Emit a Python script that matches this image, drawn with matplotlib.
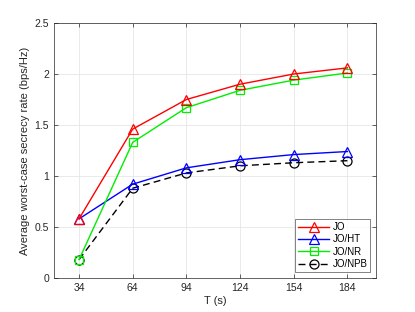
import matplotlib
matplotlib.use("Agg")
import matplotlib.pyplot as plt

T = [34, 64, 94, 124, 154, 184]
jo = [0.58, 1.46, 1.75, 1.90, 2.00, 2.06]
jo_ht = [0.58, 0.92, 1.08, 1.16, 1.21, 1.24]
jo_nr = [0.18, 1.33, 1.67, 1.84, 1.94, 2.01]
jo_npb = [0.18, 0.88, 1.03, 1.10, 1.13, 1.15]
labels = ["JO", "JO/HT", "JO/NR", "JO/NPB"]

plt.rcParams['font.family'] = ['Liberation Sans', 'DejaVu Sans']
fig = plt.figure(figsize=(4.15, 3.12), dpi=100)
ax = fig.add_axes([54/415, 1-278/312, (376-54)/415, (278-23)/312])

ms = 7
ax.plot(T, jo, color='#ff0000', marker='^', mfc='none', ms=ms, lw=1, mew=0.9, label=labels[0], zorder=5)
ax.plot(T, jo_ht, color='#0000ff', marker='^', mfc='none', ms=ms, lw=1, mew=0.9, label=labels[1], zorder=4)
ax.plot(T, jo_nr, color='#00ee00', marker='s', mfc='none', ms=5.5, lw=1, mew=0.9, label=labels[2], zorder=4)
ax.plot(T, jo_npb, color='#000000', marker='o', mfc='none', ms=6.5, lw=1, mew=0.9, ls=(0, (5, 3)), label=labels[3], zorder=3)

ax.set_xlim(20, 200)
ax.set_ylim(0, 2.5)
ax.set_xticks(T)
ax.set_yticks([0, 0.5, 1, 1.5, 2, 2.5])
ax.set_yticklabels(['0', '0.5', '1', '1.5', '2', '2.5'])
ax.grid(True, color='#e6e6e6', lw=0.6)
ax.set_axisbelow(True)
for s in ax.spines.values():
    s.set_color('#262626')
    s.set_linewidth(0.5)
ax.tick_params(labelsize=7.5, colors='#262626', direction='in', length=3, width=0.5, top=True, right=True)
ax.set_xlabel('T (s)', fontsize=8, color='#262626', labelpad=2)
ax.set_ylabel('Average worst-case secrecy rate (bps/Hz)', fontsize=8, color='#262626', labelpad=3)

leg = ax.legend(loc='lower right', fontsize=7, frameon=True, fancybox=False, handlelength=3.2,
                borderpad=0.3, labelspacing=0.25, handletextpad=0.3, borderaxespad=0.6)
leg.get_frame().set_edgecolor('#262626')
leg.get_frame().set_linewidth(0.5)

fig.savefig('out.png', dpi=100)
